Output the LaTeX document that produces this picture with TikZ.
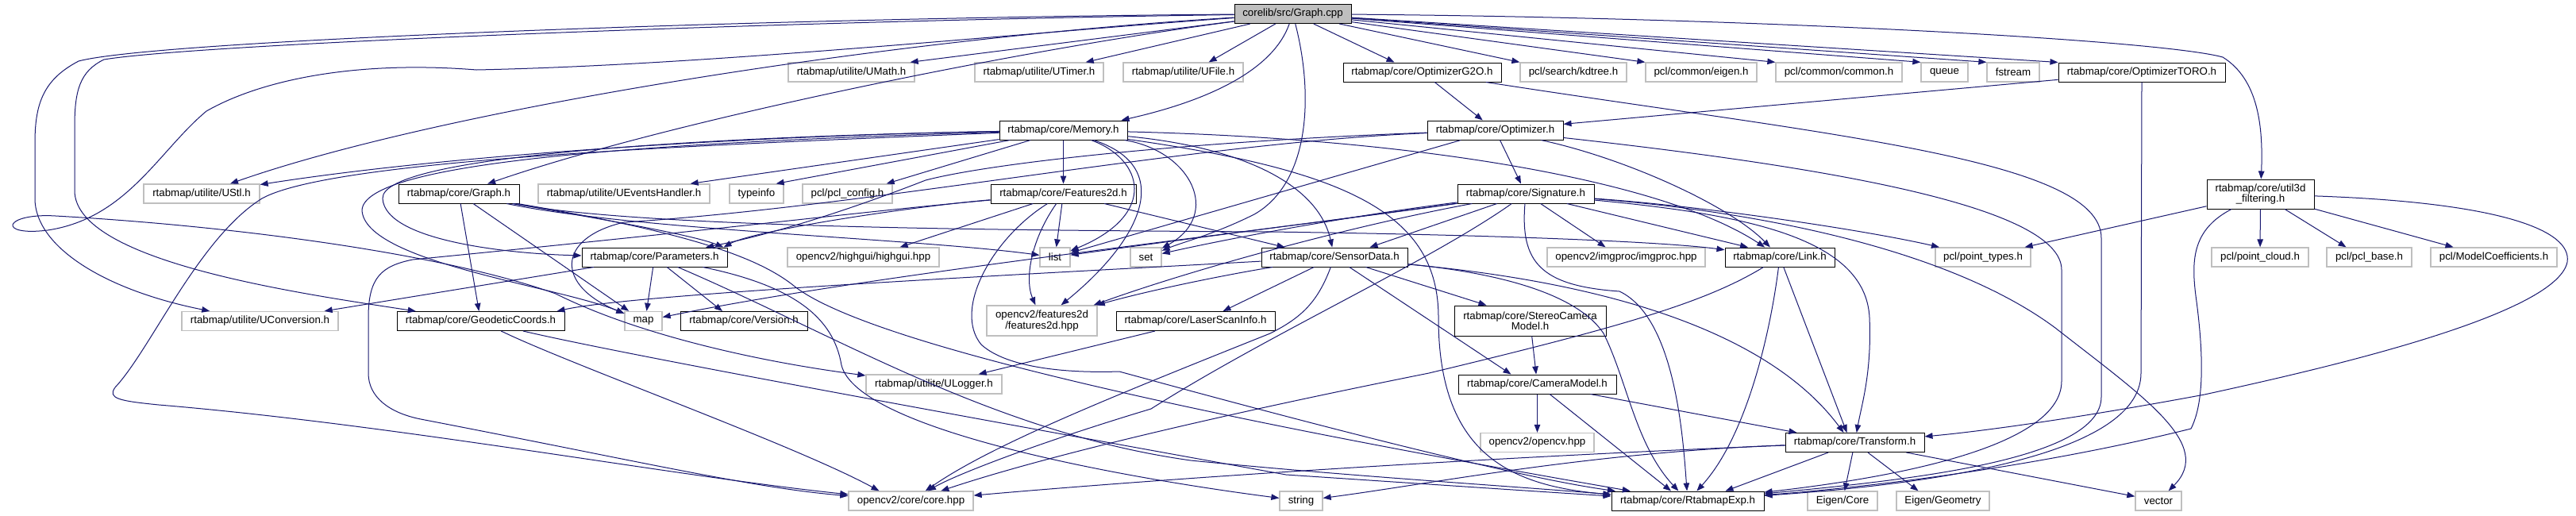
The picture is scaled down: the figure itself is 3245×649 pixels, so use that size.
\documentclass[tikz,border=0pt]{standalone}
\usepackage{fontspec}
\setmainfont{Liberation Sans}
\usetikzlibrary{arrows.meta}
\definecolor{navy}{RGB}{25,25,112}
\definecolor{lgray}{RGB}{191,191,191}
\newcommand{\dgfont}{\fontsize{13.3}{13.5}\selectfont}
\tikzset{
  bx/.style={draw, line width=1pt, minimum height=24pt, inner sep=0pt, font=\dgfont, align=center},
  prj/.style={bx, draw=black},
  sys/.style={bx, draw=lgray, line width=1.3pt},
  src/.style={bx, draw=black, fill=lgray},
  dep/.style={draw=navy, line width=1pt, -{Triangle[length=10pt,width=7.5pt]}}
}
\begin{document}
\begin{tikzpicture}[x=1pt,y=-1pt]
\useasboundingbox[fill=white] (0,0) rectangle (3245,649);
% row 1
\node[src,minimum width=147pt] (cpp) at (1628.5,17.5) {corelib/src/Graph.cpp};
% row 2
\node[sys,minimum width=159pt] (umath) at (1072.5,91) {rtabmap/utilite/UMath.h};
\node[sys,minimum width=162pt] (utimer) at (1309,91) {rtabmap/utilite/UTimer.h};
\node[sys,minimum width=151pt] (ufile) at (1490.5,91) {rtabmap/utilite/UFile.h};
\node[prj,minimum width=199pt] (g2o) at (1791.5,91) {rtabmap/core/OptimizerG2O.h};
\node[sys,minimum width=134pt] (kdtree) at (1982,91) {pcl/search/kdtree.h};
\node[sys,minimum width=140pt] (eigen) at (2143,91) {pcl/common/eigen.h};
\node[sys,minimum width=159pt] (common) at (2316.5,91) {pcl/common/common.h};
\node[sys,minimum width=59pt] (queue) at (2449.5,91) {queue};
\node[sys,minimum width=66pt] (fstream) at (2536,91) {fstream};
\node[prj,minimum width=210pt] (toro) at (2698,91) {rtabmap/core/OptimizerTORO.h};
% row 3
\node[prj,minimum width=161pt] (memory) at (1339.5,164) {rtabmap/core/Memory.h};
\node[prj,minimum width=171pt] (optimizer) at (1883.5,164) {rtabmap/core/Optimizer.h};
% row 4
\node[sys,minimum width=146pt] (ustl) at (254,244) {rtabmap/utilite/UStl.h};
\node[prj,minimum width=152pt] (graphh) at (578,244) {rtabmap/core/Graph.h};
\node[sys,minimum width=216pt] (uevents) at (786,244) {rtabmap/utilite/UEventsHandler.h};
\node[sys,minimum width=68pt] (typeinfo) at (953,244) {typeinfo};
\node[sys,minimum width=113pt] (pclconfig) at (1067.5,244) {pcl/pcl\_config.h};
\node[prj,minimum width=183pt] (features) at (1339.5,244) {rtabmap/core/Features2d.h};
\node[prj,minimum width=172pt] (signature) at (1922,244) {rtabmap/core/Signature.h};
\node[prj,minimum width=135pt,minimum height=37pt] (util3d) at (2847.5,244.5) {rtabmap/core/util3d\\\_filtering.h};
% row 5
\node[prj,minimum width=183pt] (parameters) at (824.5,324) {rtabmap/core/Parameters.h};
\node[sys,minimum width=191pt] (highgui) at (1087.5,324) {opencv2/highgui/highgui.hpp};
\node[sys,minimum width=38pt] (list) at (1329,324) {list};
\node[sys,minimum width=39pt] (set) at (1443.5,324) {set};
\node[prj,minimum width=184pt] (sensordata) at (1681,324) {rtabmap/core/SensorData.h};
\node[sys,minimum width=199pt] (imgproc) at (2048.5,324) {opencv2/imgproc/imgproc.hpp};
\node[prj,minimum width=138pt] (link) at (2242,324) {rtabmap/core/Link.h};
\node[sys,minimum width=120pt] (pointtypes) at (2498,324) {pcl/point\_types.h};
\node[sys,minimum width=122pt] (pointcloud) at (2847,324) {pcl/point\_cloud.h};
\node[sys,minimum width=107pt] (pclbase) at (2984.5,324) {pcl/pcl\_base.h};
\node[sys,minimum width=159pt] (modelcoef) at (3141.5,324) {pcl/ModelCoefficients.h};
% row 6
\node[sys,minimum width=197pt] (uconv) at (327.5,404.5) {rtabmap/utilite/UConversion.h};
\node[prj,minimum width=211pt] (geodetic) at (605.5,404.5) {rtabmap/core/GeodeticCoords.h};
\node[sys,minimum width=47pt] (map) at (810.5,404.5) {map};
\node[prj,minimum width=160pt] (version) at (937,404.5) {rtabmap/core/Version.h};
\node[sys,minimum width=139pt,minimum height=38pt] (f2dhpp) at (1312.5,404) {opencv2/features2d\\/features2d.hpp};
\node[prj,minimum width=200pt] (laserscan) at (1506,404.5) {rtabmap/core/LaserScanInfo.h};
\node[prj,minimum width=191pt,minimum height=38pt] (stereo) at (1927.5,404) {rtabmap/core/StereoCamera\\Model.h};
% row 7
\node[sys,minimum width=171pt] (ulogger) at (1176.5,484) {rtabmap/utilite/ULogger.h};
\node[prj,minimum width=199pt] (cameramodel) at (1936.5,484) {rtabmap/core/CameraModel.h};
% row 8
\node[sys,minimum width=143pt] (opencvhpp) at (1936.5,557.5) {opencv2/opencv.hpp};
\node[prj,minimum width=175pt] (transform) at (2336.5,557.5) {rtabmap/core/Transform.h};
% row 9
\node[sys,minimum width=157pt] (corehpp) at (1147.5,631) {opencv2/core/core.hpp};
\node[sys,minimum width=54pt] (string) at (1639,631) {string};
\node[prj,minimum width=192pt] (rtabmapexp) at (2126,631) {rtabmap/core/RtabmapExp.h};
\node[sys,minimum width=88pt] (eigencore) at (2321,631) {Eigen/Core};
\node[sys,minimum width=117pt] (eigengeom) at (2447.5,631) {Eigen/Geometry};
\node[sys,minimum width=58pt] (vector) at (2719,631) {vector};

% ---- Graph.cpp
\draw[dep] (cpp) .. controls (1100,50) and (550,140) .. (ustl);
\draw[dep] (cpp) .. controls (1300,60) and (850,150) .. (graphh);
\draw[dep] (cpp) -- ([xshift=-6pt]umath.north east);
\draw[dep] (cpp) -- ([xshift=-23pt]utimer.north east);
\draw[dep] (cpp) -- ([xshift=-44pt]ufile.north east);
\draw[dep] (cpp) .. controls (1605,85) and (1530,125) .. ([xshift=-8pt]memory.north east);
\draw[dep] (cpp) -- ([xshift=65pt]g2o.north west);
\draw[dep] (cpp) -- (kdtree.north west);
\draw[dep] (cpp) -- (eigen.north west);
\draw[dep] (cpp) -- (common.north west);
\draw[dep] (cpp) -- (queue.north west);
\draw[dep] (cpp) -- (fstream.north west);
\draw[dep] (cpp) -- (toro.north west);
\draw[dep] (cpp) .. controls (2200,22) and (2720,50) .. (2800,72) .. controls (2845,100) and (2851,160) .. (util3d);
\draw[dep] (cpp) .. controls (1000,22) and (200,50) .. (99,77) .. controls (55,100) and (44,130) .. (44,180) -- (44,250) .. controls (44,310) and (130,365) .. (uconv);
\draw[dep] (cpp) .. controls (1000,26) and (250,55) .. (131,75) .. controls (100,90) and (94,115) .. (94,160) -- (94,240) .. controls (94,330) and (380,370) .. (geodetic);
\draw[dep] (cpp) .. controls (1300,40) and (900,82) .. (600,88) .. controls (450,76) and (330,100) .. (260,140) .. controls (200,190) and (160,275) .. (60,290) .. controls (-5,298) and (5,268) .. (70,272) .. controls (300,285) and (560,320) .. (700,370) .. controls (800,420) and (950,455) .. (ulogger);
\draw[dep] (cpp) .. controls (1655,120) and (1650,230) .. (1580,270) .. controls (1530,295) and (1490,305) .. (set);

% ---- Memory.h
\draw[dep] (memory) .. controls (1000,170) and (600,190) .. (ustl);
\draw[dep] (memory) -- ([xshift=-25pt]uevents.north east);
\draw[dep] (memory) -- ([xshift=-10pt]typeinfo.north east);
\draw[dep] (memory) -- ([xshift=-8pt]pclconfig.north east);
\draw[dep] (memory) -- (features);
\draw[dep] (memory) .. controls (1440,200) and (1460,270) .. (list);
\draw[dep] (memory) .. controls (1500,190) and (1540,270) .. (set);
\draw[dep] (memory) .. controls (1480,210) and (1440,300) .. (f2dhpp);
\draw[dep] (memory) .. controls (1560,185) and (1660,230) .. (sensordata);
\draw[dep] (memory) .. controls (1800,175) and (2100,230) .. (link);
\draw[dep] (memory) .. controls (1700,215) and (1812,270) .. (1812,400) .. controls (1812,570) and (1900,612) .. (rtabmapexp);
\draw[dep] (memory) .. controls (900,172) and (480,195) .. (482,250) .. controls (485,305) and (650,320) .. (parameters);
\draw[dep] (memory) .. controls (800,180) and (458,205) .. (456,265) .. controls (460,330) and (700,360) .. (map);
\draw[dep] (memory) .. controls (900,182) and (420,200) .. (330,250) .. controls (250,300) and (190,440) .. (145,488) .. controls (135,502) and (150,505) .. (200,510) .. controls (500,535) and (850,600) .. (corehpp);

% ---- Optimizer.h
\draw[dep] (optimizer) -- (signature);
\draw[dep] (optimizer) .. controls (2050,200) and (2180,260) .. (link);
\draw[dep] (optimizer) .. controls (2300,210) and (2597,260) .. (2597,340) -- (2597,480) .. controls (2597,560) and (2400,600) .. (rtabmapexp);
\draw[dep] (optimizer) -- (list);
\draw[dep] (optimizer) .. controls (1500,178) and (1250,205) .. (1166,227) .. controls (1120,245) and (1000,290) .. (parameters);
\draw[dep] (optimizer) .. controls (1500,180) and (1100,260) .. (786,280) .. controls (700,300) and (700,360) .. (map);

% ---- OptimizerG2O.h / OptimizerTORO.h
\draw[dep] (g2o) -- (optimizer);
\draw[dep] (g2o) .. controls (2300,170) and (2647,200) .. (2647,300) -- (2647,500) .. controls (2647,580) and (2400,605) .. (rtabmapexp);
\draw[dep] (toro) -- (optimizer);
\draw[dep] (toro.south) -- (2697,470) .. controls (2697,580) and (2400,612) .. (rtabmapexp);

% ---- Graph.h
\draw[dep] (graphh) -- (geodetic);
\draw[dep] (graphh) -- (map);
\draw[dep] (graphh) .. controls (750,275) and (870,295) .. ([xshift=-5pt]parameters.north east);
\draw[dep] (graphh) .. controls (800,290) and (1150,300) .. (list);
\draw[dep] (graphh) .. controls (800,285) and (1200,290) .. (1600,292) .. controls (1900,296) and (2100,305) .. (link);
\draw[dep] (graphh) .. controls (850,290) and (950,320) .. (1000,360) .. controls (1100,440) and (1600,540) .. (rtabmapexp);

% ---- Features2d.h
\draw[dep] (features) -- ([xshift=-50pt]highgui.north east);
\draw[dep] (features) -- (list);
\draw[dep] (features) .. controls (1300,300) and (1290,350) .. (f2dhpp);
\draw[dep] (features) .. controls (1150,260) and (950,290) .. ([xshift=-5pt]parameters.north east);
\draw[dep] (features) -- ([xshift=30pt]sensordata.north west);
\draw[dep] (features) .. controls (1100,265) and (900,290) .. (520,327) .. controls (480,335) and (464,350) .. (464,400) -- (464,470) .. controls (464,500) and (490,520) .. (530,528) .. controls (800,580) and (950,615) .. (corehpp);
\draw[dep] (features) .. controls (1250,300) and (1200,390) .. (1236,434) .. controls (1270,465) and (1350,470) .. (1410,468) .. controls (1600,520) and (1900,600) .. (rtabmapexp);

% ---- Signature.h
\draw[dep] (signature) -- ([xshift=-48pt]sensordata.north east);
\draw[dep] (signature) -- ([xshift=-26pt]imgproc.north);
\draw[dep] (signature) -- ([xshift=-40pt]link.north);
\draw[dep] (signature) .. controls (2150,260) and (2350,290) .. (pointtypes);
\draw[dep] (signature) .. controls (2200,265) and (2450,310) .. (2589,413) .. controls (2700,500) and (2790,560) .. (vector);
\draw[dep] (signature) .. controls (2200,270) and (2350,300) .. (2355,400) .. controls (2358,470) and (2345,510) .. (transform);
\draw[dep] (signature) .. controls (1915,330) and (1940,360) .. (2040,367) .. controls (2110,400) and (2120,550) .. (rtabmapexp);
\draw[dep] (signature) .. controls (1800,330) and (1600,420) .. (1450,515) .. controls (1300,560) and (1200,600) .. (corehpp);
\draw[dep] (signature) .. controls (1700,275) and (1500,300) .. (list);
\draw[dep] (signature) .. controls (1700,272) and (1550,300) .. (set);
\draw[dep] (signature) .. controls (1700,285) and (1500,340) .. ([xshift=-5pt]f2dhpp.north east);
\draw[dep] (signature) .. controls (1600,290) and (1100,345) .. (map);

% ---- SensorData.h
\draw[dep] (sensordata) -- ([xshift=-55pt]stereo.north);
\draw[dep] (sensordata) -- ([xshift=-33pt]cameramodel.north);
\draw[dep] (sensordata) .. controls (1900,345) and (2200,380) .. ([xshift=-14pt]transform.north);
\draw[dep] (sensordata) .. controls (1850,340) and (1980,360) .. (2020,420) .. controls (2050,480) and (2060,560) .. (rtabmapexp);
\draw[dep] (sensordata) .. controls (1660,380) and (1640,400) .. (1600,420) .. controls (1400,500) and (1250,560) .. (corehpp);
\draw[dep] (sensordata) .. controls (1550,345) and (1450,365) .. (f2dhpp);
\draw[dep] (sensordata) -- ([xshift=-66pt]laserscan.north east);
\draw[dep] (sensordata) .. controls (1300,345) and (800,370) .. ([xshift=-10pt]geodetic.north east);

% ---- Link.h
\draw[dep] (link) -- ([xshift=-10pt]transform.north);
\draw[dep] (link) .. controls (2230,420) and (2200,550) .. (rtabmapexp);
\draw[dep] (link) .. controls (2150,380) and (2050,410) .. (1800,470) .. controls (1500,530) and (1300,580) .. (corehpp);

% ---- Parameters.h
\draw[dep] (parameters) -- ([xshift=4pt]map.north);
\draw[dep] (parameters) -- ([xshift=-27pt]version.north);
\draw[dep] (parameters) -- ([xshift=-18pt]uconv.north east);
\draw[dep] (parameters) .. controls (1000,360) and (1050,400) .. (1060,460) .. controls (1080,540) and (1400,600) .. (string);
\draw[dep] (parameters) .. controls (1050,420) and (1250,545) .. (1500,580) .. controls (1700,600) and (1900,612) .. (rtabmapexp);

% ---- GeodeticCoords.h
\draw[dep] (geodetic) .. controls (720,460) and (1000,560) .. ([xshift=-40pt]corehpp.north);
\draw[dep] (geodetic) .. controls (800,450) and (1300,540) .. (1620,598) .. controls (1800,610) and (1950,620) .. (rtabmapexp);

% ---- others
\draw[dep] (laserscan) -- ([xshift=-30pt]ulogger.north east);
\draw[dep] (stereo) -- (cameramodel);
\draw[dep] (cameramodel) -- (opencvhpp);
\draw[dep] (cameramodel) -- ([xshift=-21pt]rtabmapexp.north);
\draw[dep] (cameramodel) -- ([xshift=15pt]transform.north west);

% ---- Transform.h
\draw[dep] (transform) -- ([xshift=-49pt]rtabmapexp.north east);
\draw[dep] (transform) -- (eigencore);
\draw[dep] (transform) -- ([xshift=-31pt]eigengeom.north);
\draw[dep] (transform) -- (vector);
\draw[dep] (transform) .. controls (2000,570) and (1800,610) .. (string);
\draw[dep] (transform) .. controls (1900,575) and (1500,600) .. (corehpp);

% ---- util3d_filtering.h
\draw[dep] (util3d) -- ([xshift=-8pt]pointtypes.north east);
\draw[dep] (util3d) -- (pointcloud);
\draw[dep] (util3d) -- ([xshift=-29pt]pclbase.north);
\draw[dep] (util3d) -- ([xshift=-51pt]modelcoef.north);
\draw[dep] (util3d) .. controls (2760,290) and (2760,330) .. (2767,380) .. controls (2780,480) and (2770,520) .. (2760,540) .. controls (2600,580) and (2400,610) .. (rtabmapexp);
\draw[dep] (util3d) .. controls (3150,255) and (3240,290) .. (3234,330) .. controls (3220,400) and (2900,470) .. (2777,497) .. controls (2600,530) and (2480,545) .. (transform);
\end{tikzpicture}
\end{document}
